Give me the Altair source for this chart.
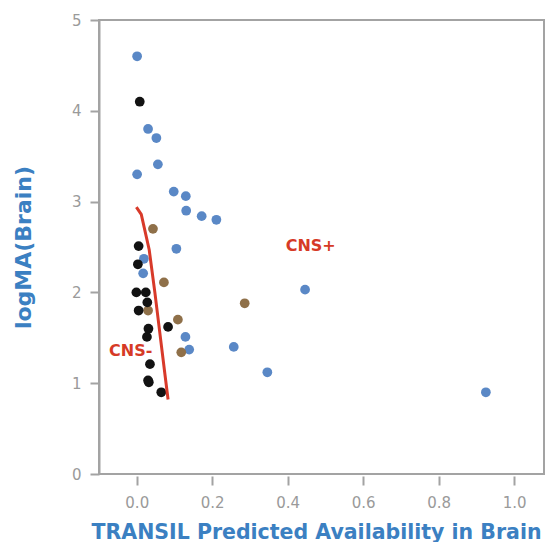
import altair as alt
import pandas as pd

# CNS+ (blue)
blue_x = [0.001, 0.030, 0.052, 0.056, 0.001, 0.098, 0.130, 0.131, 0.172, 0.211,
          0.105, 0.019, 0.017, 0.446, 0.129, 0.139, 0.257, 0.346, 0.925]
blue_y = [4.60, 3.80, 3.70, 3.41, 3.30, 3.11, 3.06, 2.90, 2.84, 2.80,
          2.48, 2.37, 2.21, 2.03, 1.51, 1.37, 1.40, 1.12, 0.90]
# CNS- (black)
black_x = [0.008, 0.005, 0.003, -0.001, 0.024, 0.028, 0.005, 0.031, 0.083, 0.027,
           0.035, 0.030, 0.032, 0.065]
black_y = [4.10, 2.51, 2.31, 2.00, 2.00, 1.89, 1.80, 1.60, 1.62, 1.51,
           1.21, 1.03, 1.01, 0.90]
# brown group
brown_x = [0.043, 0.072, 0.286, 0.030, 0.109, 0.118]
brown_y = [2.70, 2.11, 1.88, 1.80, 1.70, 1.34]
# red boundary line
line_x = [-0.001, 0.012, 0.033, 0.048, 0.061, 0.074, 0.083]
line_y = [2.94, 2.86, 2.47, 2.00, 1.56, 1.12, 0.82]
# annotations
label_text = ["CNS+", "CNS-"]
label_x = [0.461, -0.016]
label_y = [2.51, 1.36]

x_ticks = [0.0, 0.2, 0.4, 0.6, 0.8, 1.0]
y_ticks = [0, 1, 2, 3, 4, 5]

pts = pd.DataFrame({
    "x": blue_x + black_x + brown_x,
    "y": blue_y + black_y + brown_y,
    "g": ["blue"] * len(blue_x) + ["black"] * len(black_x) + ["brown"] * len(brown_x),
})
order_map = {"blue": 1, "brown": 2, "black": 3}
pts["o"] = pts["g"].map(order_map)
pts = pts.sort_values("o")

line_df = pd.DataFrame({"x": line_x, "y": line_y, "i": list(range(len(line_x)))})
lab_df = pd.DataFrame({"t": label_text, "x": label_x, "y": label_y})

gray = "#a3a3a3"
blue_title = "#3b80c2"

xs = alt.Scale(domain=[-0.1, 1.079], nice=False, zero=False)
ys = alt.Scale(domain=[0, 5], nice=False)

xaxis = alt.Axis(
    title="TRANSIL Predicted Availability in Brain", values=x_ticks, format=".1f",
    grid=False, domain=False, ticks=True, tickColor=gray, tickWidth=2, tickSize=9,
    offset=2, labelColor="#9a9a9a", labelFont="DejaVu Sans", labelFontSize=15,
    labelPadding=10, titleFont="DejaVu Sans", titleFontSize=20.5, titleFontWeight="bold",
    titleColor=blue_title, titleBaseline="alphabetic", titleAlign="left",
    titleX=-8, titleY=62,
)
yaxis = alt.Axis(
    title="logMA(Brain)", values=y_ticks, format="d",
    grid=False, domain=True, domainColor=gray, domainWidth=2,
    ticks=True, tickColor=gray, tickWidth=2, tickSize=9,
    labelColor="#9a9a9a", labelFont="DejaVu Sans", labelFontSize=15, labelPadding=9,
    titleFont="DejaVu Sans", titleFontSize=22, titleFontWeight="bold",
    titleColor=blue_title, titleBaseline="alphabetic", titleX=-69, titleY=227,
)

points = alt.Chart(pts).mark_circle(size=95, opacity=1).encode(
    x=alt.X("x:Q", scale=xs, axis=xaxis),
    y=alt.Y("y:Q", scale=ys, axis=yaxis),
    color=alt.Color("g:N", scale=alt.Scale(domain=["blue", "black", "brown"],
                                           range=["#5a88c6", "#121212", "#8f7049"]),
                    legend=None),
    order=alt.Order("o:Q"),
)

line = alt.Chart(line_df).mark_line(color="#d83a2a", strokeWidth=3).encode(
    x=alt.X("x:Q", scale=xs), y=alt.Y("y:Q", scale=ys), order="i:Q"
)

labels = alt.Chart(lab_df).mark_text(
    font="DejaVu Sans", fontSize=16, fontWeight="bold", color="#d63a26",
    align="center", baseline="middle"
).encode(x=alt.X("x:Q", scale=xs), y=alt.Y("y:Q", scale=ys), text="t:N")

chart = alt.layer(points, line, labels).properties(
    width=445, height=454,
    autosize=alt.AutoSizeParams(type="none"),
    padding={"left": 91, "top": 12, "right": 1, "bottom": 68},
    background="white",
).configure_view(stroke=gray, strokeWidth=2)

chart.save("out.html", embed_options={"renderer": "svg", "actions": False})
